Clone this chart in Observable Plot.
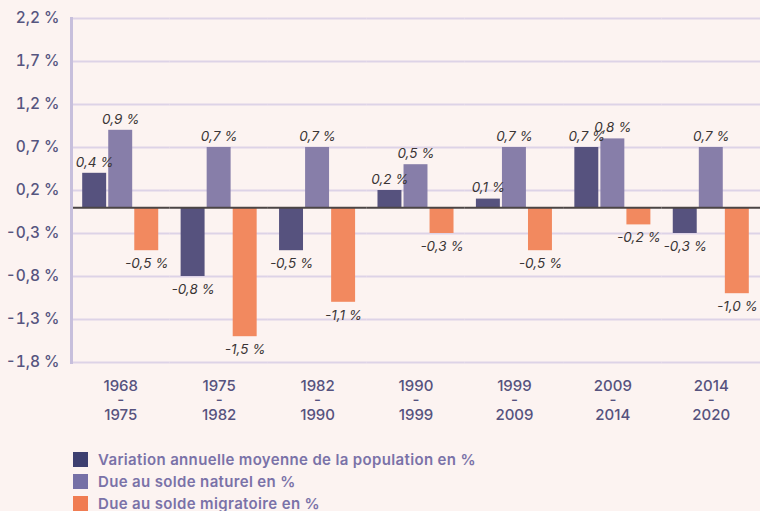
<!DOCTYPE html>
<html><head><meta charset="utf-8">
<script src="https://cdn.jsdelivr.net/npm/d3@7"></script>
<script src="https://cdn.jsdelivr.net/npm/@observablehq/plot@0.6"></script>
<style>
body{margin:0;background:#fcf3f1;font-family:Inter, sans-serif;}
#legend{margin-left:73px;padding-top:12px}
.row{display:flex;align-items:center;height:22px;font-size:15px;letter-spacing:0.35px;font-weight:600;color:#7a72a8;white-space:nowrap}
.sw{width:15px;height:15px;margin-right:10px;flex:none}
</style></head><body><div id="chart"></div><div id="legend"></div>
<script>
const periods = ["1968\n-\n1975", "1975\n-\n1982", "1982\n-\n1990", "1990\n-\n1999", "1999\n-\n2009", "2009\n-\n2014", "2014\n-\n2020"];
const series = ["Variation annuelle moyenne de la population en %", "Due au solde naturel en %", "Due au solde migratoire en %"];
const variation = [0.4, -0.8, -0.5, 0.2, 0.1, 0.7, -0.3];
const naturel = [0.9, 0.7, 0.7, 0.5, 0.7, 0.8, 0.7];
const migratoire = [-0.5, -1.5, -1.1, -0.3, -0.5, -0.2, -1.0];
const yTicks = [-1.8, -1.3, -0.8, -0.3, 0.2, 0.7, 1.2, 1.7, 2.2];
const barColors = ["#56527e", "#877ea9", "#f2895f"];
const legendColors = ["#3d3f70", "#7670a6", "#f07c52"];

const values = [variation, naturel, migratoire];
const rows = [];
periods.forEach((p, i) => series.forEach((s, j) => rows.push({period: p, series: s, value: values[j][i]})));
const fmt = d => d.toFixed(1).replace(".", ",") + " %";

const chart = Plot.plot({
  width: 760, height: 436,
  marginLeft: 71, marginRight: 0, marginTop: 18, marginBottom: 74,
  style: {background: "#fcf3f1", fontFamily: "Inter, sans-serif", fontSize: "15.5px", color: "#56557f", fontWeight: 500},
  facet: {data: rows, x: "period"},
  fx: {domain: periods, padding: 0, round: false, axis: null},
  x: {domain: series, paddingInner: 0.08, paddingOuter: 0.43, round: false, axis: null},
  y: {domain: [-1.8, 2.2], ticks: yTicks, tickFormat: fmt, tickSize: 0, tickPadding: 12, label: null},
  color: {domain: series, range: barColors},
  marks: [
    Plot.ruleY(yTicks, {stroke: "#ddd3e7", strokeWidth: 2}),
    Plot.barY(rows, {x: "series", y: "value", fill: "series"}),
    Plot.ruleY([0], {stroke: "#4b4545", strokeWidth: 2}),
    Plot.frame({anchor: "left", facet: "super", stroke: "#c7bfdc", strokeWidth: 3}),
    Plot.text(rows, {filter: d => d.value >= 0, x: "series", y: "value", text: d => fmt(d.value), dy: -11, lineAnchor: "middle", fontSize: 13.5, fontStyle: "italic", fontWeight: 400, fill: "#3a3535"}),
    Plot.text(rows, {filter: d => d.value < 0, x: "series", y: "value", text: d => fmt(d.value), dy: 13, lineAnchor: "middle", fontSize: 13.5, fontStyle: "italic", fontWeight: 400, fill: "#3a3535"}),
    Plot.text(rows, {filter: d => d.series === series[1], text: "period", frameAnchor: "bottom", lineAnchor: "top", dy: 18, lineHeight: 0.97, fontSize: 15, fontWeight: 500, fill: "#56527e"})
  ]
});
document.getElementById("chart").appendChild(chart);

const lg = document.getElementById("legend");
series.forEach((s, i) => {
  const r = document.createElement("div"); r.className = "row";
  const sw = document.createElement("span"); sw.className = "sw"; sw.style.background = legendColors[i];
  const t = document.createElement("span"); t.textContent = s;
  r.appendChild(sw); r.appendChild(t); lg.appendChild(r);
});
</script></body></html>
